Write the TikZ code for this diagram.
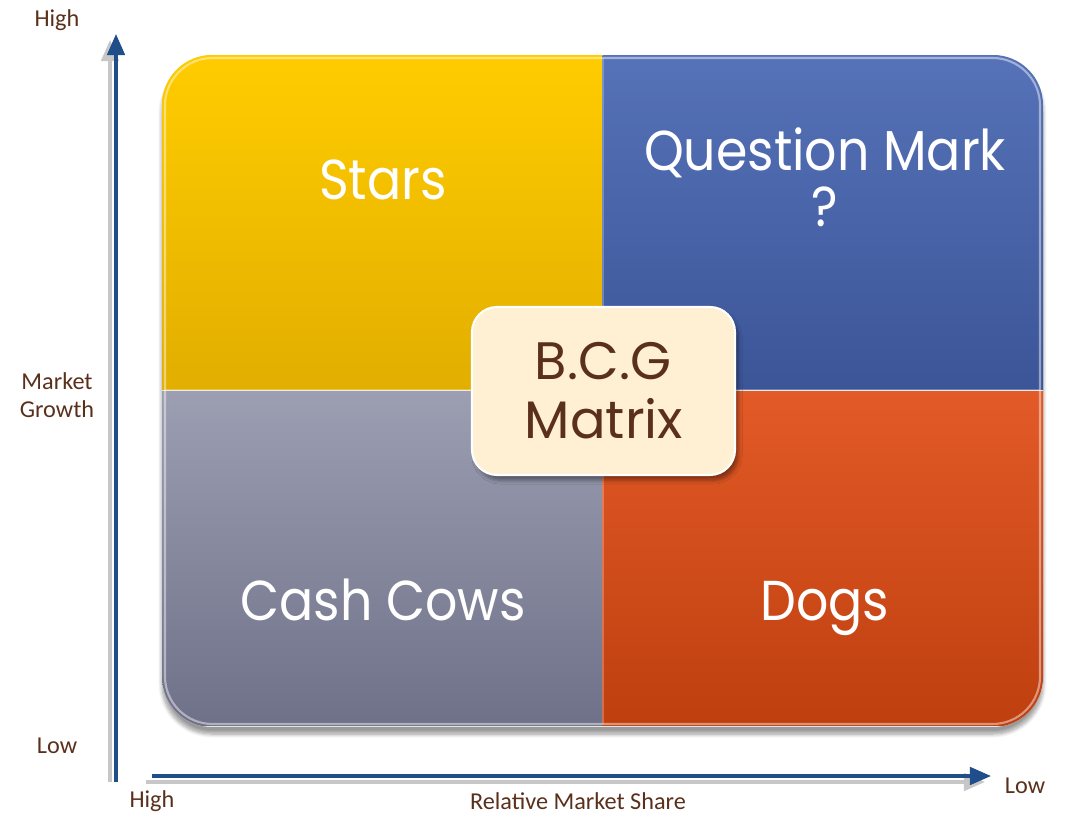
\documentclass[tikz,border=0pt]{standalone}
\usepackage{fontspec}
\setmainfont{Poppins}[FakeStretch=0.9]
\newfontfamily\labelfont{Carlito}
\newfontfamily\centerfont{Poppins}
\usetikzlibrary{arrows.meta,shadows.blur}
\definecolor{StarTop}{HTML}{FFCC00}
\definecolor{StarBot}{HTML}{E2AE00}
\definecolor{QuesTop}{HTML}{5672B8}
\definecolor{QuesBot}{HTML}{3B5597}
\definecolor{CowTop}{HTML}{9C9EB2}
\definecolor{CowBot}{HTML}{6F7189}
\definecolor{DogTop}{HTML}{E25A27}
\definecolor{DogBot}{HTML}{BF3F0F}
\definecolor{CreamFill}{HTML}{FFEFD3}
\definecolor{BrownText}{HTML}{5A301C}
\definecolor{AxisBlue}{HTML}{1F4E8A}
\tikzset{
  QuadCell/.style   = {rectangle, inner sep=0pt, minimum width=8.82cm, minimum height=6.7cm},
  QuadText/.style   = {text=white, font=\fontsize{32}{32}\selectfont, align=center, anchor=base, inner sep=0pt},
  AxisLabel/.style  = {text=BrownText, font=\labelfont\fontsize{13.8}{16}\selectfont, align=center, inner sep=0pt},
  AxisStyle/.style  = {AxisBlue, line width=1.8pt, -{Triangle[width=10pt,length=12pt]}},
  AxisShadow/.style = {black!22, line width=1.8pt, -{Triangle[width=10pt,length=12pt]}}
}
\begin{document}
\begin{tikzpicture}[x=0.02cm,y=-0.02cm]
	\useasboundingbox (0,0) rectangle (1066,813);
	\fill[black!10, blur shadow={shadow xshift=0pt, shadow yshift=-4pt, shadow blur steps=8}, rounded corners=1cm]
		(162,55) rectangle (1043,727);
	\begin{scope}
	\clip[rounded corners=1cm] (162,55) rectangle (1043,727);
	\node[QuadCell, top color=StarTop, bottom color=StarBot] (stars) at (382.5,222.5) {};
	\node[QuadCell, top color=QuesTop, bottom color=QuesBot] (quest) at (823,222.5) {};
	\node[QuadCell, top color=CowTop, bottom color=CowBot] (cows) at (382.5,558.5) {};
	\node[QuadCell, top color=DogTop, bottom color=DogBot] (dogs) at (823,558.5) {};
	\end{scope}
	\draw[white, opacity=0.45, line width=1.2pt, rounded corners=0.95cm] (165,58) rectangle (1040,724);
	\draw[white, opacity=0.25, line width=0.6pt] (603,58) -- (603,724) (165,390) -- (1040,390);
	\node[QuadText] (starsT) at (383,200) {Stars};
	\node[QuadText] (questT) at (825,171) {Question Mark};
	\node[QuadText] (questM) at (825,227) {?};
	\node[QuadText] (cowsT)  at (383,621) {Cash Cows};
	\node[QuadText] (dogsT)  at (825,621) {Dogs};
	\node[rectangle, rounded corners=0.5cm, fill=CreamFill, draw=white, line width=1.2pt,
		minimum width=5.26cm, minimum height=3.36cm, blur shadow={shadow xshift=2pt, shadow yshift=-3pt}] (bcg) at (603.5,391) {};
	\node[QuadText, text=BrownText, font=\centerfont\fontsize{30}{30}\selectfont] (bcgT) at (603,380) {B.C.G};
	\node[QuadText, text=BrownText, font=\centerfont\fontsize{30}{30}\selectfont] (bcgM) at (604,439) {Matrix};
	\coordinate (vlow) at (116,782);
	\coordinate (vhigh) at (116,34);
	\coordinate (hlow) at (152,776);
	\coordinate (hhigh) at (991,776);
	\draw[AxisShadow] ([shift={(-6,0)}]vlow) -- ([shift={(-6,6)}]vhigh);
	\draw[AxisShadow] ([shift={(-6,6)}]hlow) -- ([shift={(-6,6)}]hhigh);
	\draw[AxisStyle] (vlow) -- (vhigh);
	\draw[AxisStyle] (hlow) -- (hhigh);
	\node[AxisLabel] (ghigh) at (57,20) {High};
	\node[AxisLabel] (growth) at (57,395) {Market\\Growth};
	\node[AxisLabel] (glow) at (57,746) {Low};
	\node[AxisLabel] (shigh) at (152,801) {High};
	\node[AxisLabel] (share) at (578,801) {Relative Market Share};
	\node[AxisLabel] (slow) at (1025,786) {Low};
\end{tikzpicture}
\end{document}
